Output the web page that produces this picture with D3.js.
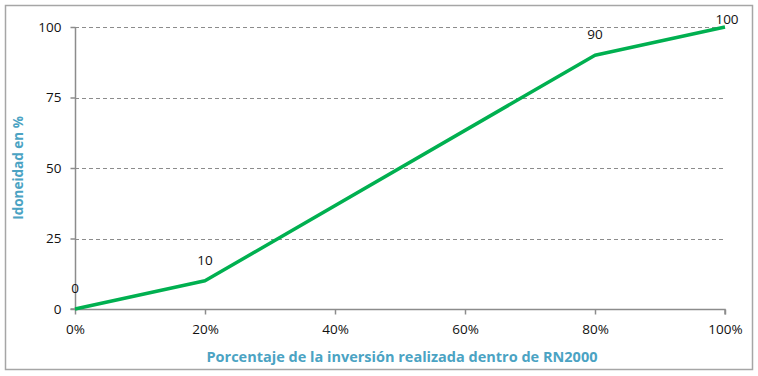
<!DOCTYPE html>
<html>
<head>
<meta charset="utf-8">
<script src="https://cdn.jsdelivr.net/npm/d3@7"></script>
<style>
  html, body { margin: 0; padding: 0; background: #fff; }
  svg { display: block; }
  text { font-family: "Open Sans", Lato, sans-serif; }
</style>
</head>
<body>
<svg id="chart" width="758" height="376"></svg>
<script>
// Share of investment made inside RN2000 vs. suitability (%)
const investShare = [0, 20, 80, 100];
const suitability = [0, 10, 90, 100];
const xTicks = [0, 20, 40, 60, 80, 100];
const yTicks = [0, 25, 50, 75, 100];
const xTitle = "Porcentaje de la inversión realizada dentro de RN2000";
const yTitle = "Idoneidad en %";

const svg = d3.select("#chart");
const W = 758, H = 376;
const plot = { left: 75, right: 725, top: 27, bottom: 309 };
const FONT = "'Open Sans', Lato, sans-serif";

// outer frame
svg.append("rect")
  .attr("x", 5.5).attr("y", 5.5)
  .attr("width", W - 11).attr("height", H - 12)
  .attr("fill", "#fff").attr("stroke", "#a6a6a6").attr("stroke-width", 1.5);

const x = d3.scaleLinear().domain([0, 100]).range([plot.left, plot.right]);
const y = d3.scaleLinear().domain([0, 100]).range([plot.bottom, plot.top]);

// dashed horizontal gridlines
svg.append("g")
  .selectAll("line")
  .data(yTicks.filter(d => d > 0))
  .join("line")
  .attr("x1", plot.left).attr("x2", plot.right + 1)
  .attr("y1", d => Math.round(y(d)) + 0.5).attr("y2", d => Math.round(y(d)) + 0.5)
  .attr("stroke", "#8c8c8c").attr("stroke-width", 1)
  .attr("stroke-dasharray", "4,3");

// y axis
const yAxis = svg.append("g")
  .attr("transform", `translate(${plot.left + 0.5},0)`)
  .call(d3.axisLeft(y).tickValues(yTicks).tickSize(5).tickPadding(9).tickFormat(d3.format("d")));
// x axis
const xAxis = svg.append("g")
  .attr("transform", `translate(0,${plot.bottom + 0.5})`)
  .call(d3.axisBottom(x).tickValues(xTicks).tickSize(5).tickPadding(10).tickFormat(d => d + "%"));

[yAxis, xAxis].forEach(g => {
  g.select(".domain").attr("stroke", "#8c8c8c").attr("stroke-width", 1.5);
  g.selectAll(".tick line").attr("stroke", "#8c8c8c").attr("stroke-width", 1.5);
  g.selectAll(".tick text").attr("fill", "#111").style("font-size", "13.5px")
    .style("font-family", FONT);
});
yAxis.select(".domain").attr("d", `M-5,${plot.bottom}H0V${plot.top}`);
xAxis.select(".domain").attr("d", `M${plot.left},0H${plot.right}V5`);

const pts = investShare.map((v, i) => ({ x: v, y: suitability[i] }));

// series line
svg.append("path")
  .datum(pts)
  .attr("fill", "none")
  .attr("stroke", "#00b050")
  .attr("stroke-width", 3.5)
  .attr("stroke-linejoin", "round")
  .attr("d", d3.line().x(d => x(d.x)).y(d => y(d.y)));

// value labels above each point, kept inside the frame
svg.append("g")
  .selectAll("text")
  .data(pts)
  .join("text")
  .attr("x", d => x(d.x) + (d.x === 100 ? 2 : 0))
  .attr("y", d => Math.max(y(d.y) - 16, 24))
  .attr("text-anchor", "middle")
  .attr("fill", "#111")
  .style("font-size", "13.5px")
  .text(d => d.y);

// axis titles
svg.append("text")
  .attr("x", 402).attr("y", 362)
  .attr("text-anchor", "middle")
  .attr("fill", "#4ba3c3")
  .style("font-size", "14.5px").style("font-weight", "bold")
  .text(xTitle);

svg.append("text")
  .attr("transform", `translate(23,${(plot.top + plot.bottom) / 2}) rotate(-90)`)
  .attr("text-anchor", "middle")
  .attr("fill", "#4ba3c3")
  .style("font-size", "13.5px").style("font-weight", "bold")
  .text(yTitle);
</script>
</body>
</html>
